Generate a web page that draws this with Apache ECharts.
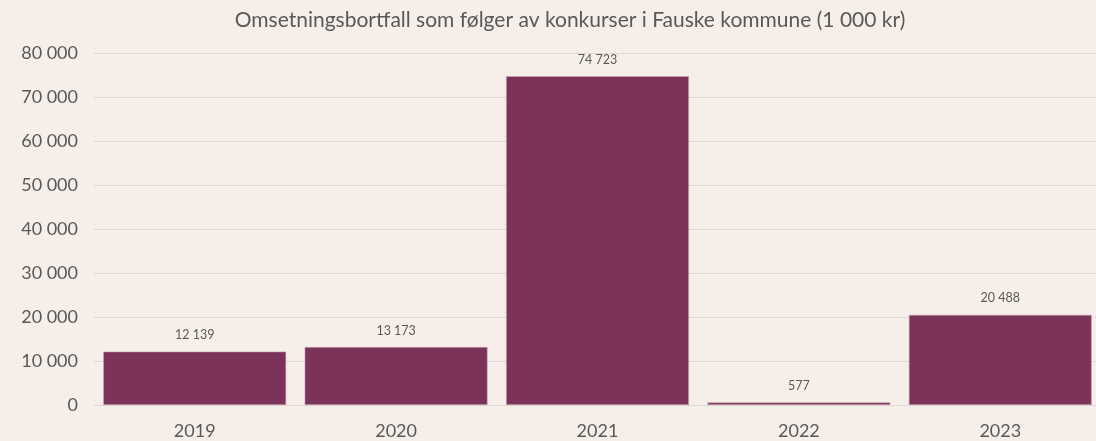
<!DOCTYPE html>
<html><head><meta charset="utf-8">
<script src="https://cdn.jsdelivr.net/npm/echarts@6/dist/echarts.min.js"></script>
<style>html,body{margin:0;padding:0;background:#F6EFE9;overflow:hidden;width:1096px;height:441px;}#c{width:1101px;height:441px;}</style>
</head><body><div id="c"></div>
<script>
const categories = ['2019','2020','2021','2022','2023'];
const values = [12139, 13173, 74723, 577, 20488];
const yTicks = [0, 10000, 20000, 30000, 40000, 50000, 60000, 70000, 80000];
const titleText = 'Omsetningsbortfall som følger av konkurser i Fauske kommune (1 000 kr)';
const fmt = v => String(v).replace(/\B(?=(\d{3})+(?!\d))/g, '\u00a0');
const FONT = 'Lato';
const chart = echarts.init(document.getElementById('c'));
chart.setOption({
  backgroundColor: '#F6EFE9',
  animation: false,
  title: { text: titleText, left: 565, top: 5, textAlign: 'center',
    textStyle: { fontFamily: FONT, fontSize: 21, fontWeight: 'normal', color: '#595959' } },
  grid: { left: 94, right: 0, top: 53, bottom: 36 },
  xAxis: { type: 'category', data: categories,
    axisLine: { show: false }, axisTick: { show: false },
    axisLabel: { fontFamily: FONT, fontSize: 18, color: '#595959', margin: 17 } },
  yAxis: { type: 'value', min: yTicks[0], max: yTicks[yTicks.length-1], interval: 10000,
    axisLabel: { fontFamily: FONT, fontSize: 18, color: '#595959', margin: 16, formatter: fmt },
    splitLine: { lineStyle: { color: '#DDDAD6', width: 1 } } },
  series: [{ type: 'bar', data: values, barCategoryGap: '9.2%',
    itemStyle: { color: '#7B3359', borderColor: '#C9A3B2', borderWidth: 0.6 },
    label: { show: true, position: 'top', distance: 10, formatter: p => fmt(p.value),
      fontFamily: FONT, fontSize: 12.5, color: '#595959' } }]
});
</script></body></html>
